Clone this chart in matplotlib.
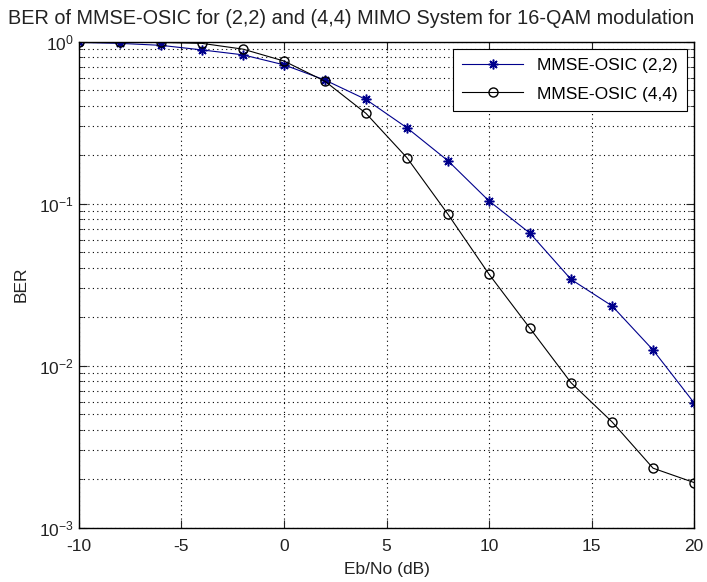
import matplotlib.pyplot as plt
from matplotlib.ticker import LogLocator, NullFormatter

plt.rcParams['font.family'] = ['Liberation Sans', 'DejaVu Sans']
plt.rcParams['axes.unicode_minus'] = False

# Eb/No points (dB)
ebno = [-10, -8, -6, -4, -2, 0, 2, 4, 6, 8, 10, 12, 14, 16, 18, 20]

# BER values
ber_22 = [0.99, 0.977, 0.95, 0.89, 0.83, 0.72, 0.58, 0.44, 0.294, 0.184,
          0.104, 0.0657, 0.0341, 0.0234, 0.0125, 0.0059]
ber_44 = [0.995, 0.99, 0.99, 0.977, 0.90, 0.76, 0.57, 0.361, 0.192, 0.086,
          0.0367, 0.017, 0.00785, 0.0045, 0.00233, 0.0019]

labels = ['MMSE-OSIC (2,2)', 'MMSE-OSIC (4,4)']
title = 'BER of MMSE-OSIC for (2,2) and (4,4) MIMO System for 16-QAM modulation'

fig = plt.figure(figsize=(7.07, 5.82), dpi=100)
ax = fig.add_axes([0.1117, 0.0933, 0.87, 0.835])

ax.semilogy(ebno, ber_22, color='#00008c', marker=(8, 2, 0), markersize=7,
            markeredgewidth=1.1, linewidth=0.8, label=labels[0])
ax.semilogy(ebno, ber_44, color='black', marker='o', markersize=6.5,
            markerfacecolor='none', markeredgewidth=1.0, linewidth=0.8,
            label=labels[1])

ax.set_xlim(-10, 20)
ax.set_ylim(1e-3, 1)
ax.set_xticks([-10, -5, 0, 5, 10, 15, 20])
ax.yaxis.set_major_locator(LogLocator(base=10, numticks=10))
ax.yaxis.set_minor_locator(LogLocator(base=10, subs=range(2, 10), numticks=20))
ax.yaxis.set_minor_formatter(NullFormatter())

ax.grid(True, which='major', linestyle=(0, (1, 3)), color='black', linewidth=0.8)
ax.grid(True, which='minor', axis='y', linestyle=(0, (1, 3)), color='black', linewidth=0.8)
ax.tick_params(which='both', direction='in', top=True, right=True,
               labelsize=12.5, colors='#222222')
ax.tick_params(axis='x', pad=8)
ax.tick_params(which='major', length=6)
ax.tick_params(which='minor', length=3)
for s in ax.spines.values():
    s.set_linewidth(1.0)

ax.set_xlabel('Eb/No (dB)', fontsize=12.5, color='#222222', labelpad=6)
ax.set_ylabel('BER', fontsize=12.5, color='#222222', labelpad=8)
fig.text(0.497, 0.968, title, ha='center', va='center', fontsize=14.3, color='#222222')

leg = ax.legend(loc='upper right', fontsize=12.5, fancybox=False, framealpha=1,
                edgecolor='black', borderaxespad=0.4, handlelength=3.5,
                labelspacing=0.75, borderpad=0.55)
leg.get_frame().set_linewidth(0.8)

fig.savefig('out.png', dpi=100)
